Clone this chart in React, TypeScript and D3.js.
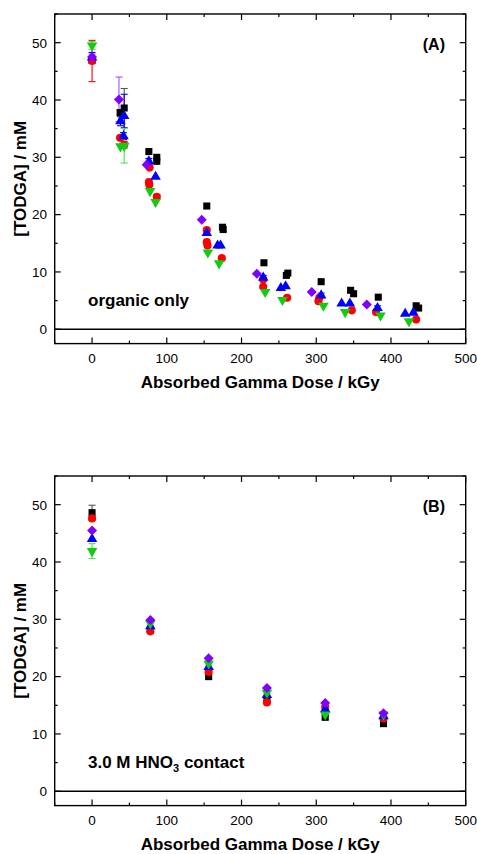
import React from "react";
import { scaleLinear, symbol, symbolSquare, symbolCircle, symbolTriangle } from "d3";

// [dose kGy, TODGA mM, error mM]
const organicBlack: [number, number, number][] = [
  [0, 47, 0.6], [37.5, 37.8, 0], [43, 38.6, 3.4], [76, 31, 0], [86.6, 29.3, 0], [86.6, 30, 0],
  [153.5, 21.5, 0], [174.5, 17.8, 0], [175.5, 17.4, 0], [230, 11.6, 0], [262, 9.8, 0], [260, 9.4, 0],
  [306.6, 8.3, 0], [346, 6.8, 0], [350, 6.2, 0], [383, 5.6, 0], [433.7, 4.1, 0], [437, 3.7, 0],
];
const organicRed: [number, number, number][] = [
  [0, 46.8, 3.6], [37.5, 33.4, 0], [43, 32.2, 0.6], [77, 28.2, 0], [76, 25.7, 0], [76.5, 25.2, 0],
  [86.6, 23.1, 0.4], [153.5, 17.3, 0], [153.5, 15.2, 0], [154.5, 14.6, 0], [173.6, 12.4, 0],
  [229, 8.7, 0], [229, 7.4, 0], [261, 5.5, 0], [304, 5.5, 0], [303, 4.9, 0], [347.6, 3.3, 0],
  [380, 3.0, 0], [433.7, 1.7, 0],
];
const organicBlue: [number, number, number][] = [
  [0, 47.4, 0.9], [38, 36.3, 0.8], [43, 37.2, 3.8], [42, 33.7, 0.6], [76, 29.3, 0.5], [85, 26.6, 0],
  [153.5, 16.8, 0.4], [168, 14.6, 0], [172, 14.6, 0], [229, 9.0, 0.4], [252.6, 7.2, 0], [259, 7.5, 0],
  [306.6, 5.9, 0.4], [334, 4.5, 0], [345, 4.5, 0], [382, 3.7, 0.4], [419, 2.7, 0], [430, 2.9, 0],
];
const organicGreen: [number, number, number][] = [
  [0, 49.5, 0.7], [38, 31.9, 0], [43, 32.0, 3.0], [77.6, 24.1, 0], [85, 22.2, 0], [155, 13.4, 0],
  [170, 11.5, 0], [231.6, 6.5, 0], [254.8, 5.1, 0], [309.6, 4.1, 0], [338.7, 3.0, 0], [386, 2.4, 0],
  [424, 1.4, 0],
];
const organicPurple: [number, number, number][] = [
  [0, 47.5, 0.5], [36, 40.1, 3.9], [73, 28.7, 0], [146.8, 19.1, 0], [220.5, 9.7, 0], [294, 6.5, 0],
  [367.7, 4.3, 0],
];

const acidDoses = [0, 78, 156, 234, 312, 390];
const acidBlack = [48.6, 28.1, 20.0, 16.0, 12.9, 11.8];
const acidRed = [47.6, 27.9, 20.8, 15.5, 14.7, 12.7];
const acidBlue = [44.0, 28.8, 21.7, 16.8, 14.3, 13.1];
const acidGreen = [41.9, 29.3, 22.3, 17.2, 13.4, 13.4];
const acidPurple = [45.5, 29.9, 23.2, 18.0, 15.4, 13.6];
const acidErr = [1.3, 0.3, 0.3, 0.3, 0.3, 0.3];

const doseTicks = [0, 100, 200, 300, 400, 500];
const doseMinor = [-50, 50, 150, 250, 350, 450];
const concTicks = [0, 10, 20, 30, 40, 50];
const concMinor = [5, 15, 25, 35, 45, 55];

const font = "'Liberation Sans', Arial, sans-serif";

type Style = { shape: string; color: string; err: string };
const styles: Style[] = [
  { shape: "square", color: "#000000", err: "#555555" },
  { shape: "circle", color: "#ff0000", err: "#ff0000" },
  { shape: "up", color: "#0000ff", err: "#0000ff" },
  { shape: "down", color: "#11cc11", err: "#55dd55" },
  { shape: "diamond", color: "#8000ff", err: "#a050ff" },
];

const symPath = (shape: string) => {
  if (shape === "square" || shape === "diamond") return symbol(symbolSquare, 50)() ?? "";
  if (shape === "circle") return symbol(symbolCircle, 52)() ?? "";
  return symbol(symbolTriangle, 48)() ?? "";
};

const Marker = ({ x, y, shape, color }: { x: number; y: number; shape: string; color: string }) => {
  const rot = shape === "down" ? 180 : shape === "diamond" ? 45 : 0;
  return <path d={symPath(shape)} transform={`translate(${x},${y}) rotate(${rot})`} fill={color} />;
};

const Panel = ({
  top,
  series,
  tag,
  note,
}: {
  top: number;
  series: [number, number, number][][];
  tag: string;
  note: React.ReactNode;
}) => {
  const left = 54.7;
  const right = 465.7;
  const bottom = top + 329.6;
  const x = scaleLinear().domain([-50, 500]).range([left, right]);
  const y = scaleLinear().domain([-2.5, 55]).range([bottom, top]);
  const tickColor = "#000";

  return (
    <g fontFamily={font}>
      {/* ticks */}
      {doseTicks.map((t) => (
        <g key={`xt${t}`}>
          <line x1={x(t)} x2={x(t)} y1={bottom} y2={bottom - 6} stroke={tickColor} strokeWidth={1.2} />
          <line x1={x(t)} x2={x(t)} y1={top} y2={top + 6} stroke={tickColor} strokeWidth={1.2} />
          <text x={x(t)} y={bottom + 19.5} textAnchor="middle" fontSize={13.5} fill="#000">
            {t}
          </text>
        </g>
      ))}
      {doseMinor.map((t) => (
        <g key={`xm${t}`}>
          <line x1={x(t)} x2={x(t)} y1={bottom} y2={bottom - 3} stroke={tickColor} strokeWidth={1.2} />
          <line x1={x(t)} x2={x(t)} y1={top} y2={top + 3} stroke={tickColor} strokeWidth={1.2} />
        </g>
      ))}
      {concTicks.map((t) => (
        <g key={`yt${t}`}>
          <line x1={left} x2={left + 6} y1={y(t)} y2={y(t)} stroke={tickColor} strokeWidth={1.2} />
          <line x1={right} x2={right - 6} y1={y(t)} y2={y(t)} stroke={tickColor} strokeWidth={1.2} />
          <text x={47} y={y(t)} dy="0.36em" textAnchor="end" fontSize={13.5} fill="#000">
            {t}
          </text>
        </g>
      ))}
      {concMinor.map((t) => (
        <g key={`ym${t}`}>
          <line x1={left} x2={left + 3} y1={y(t)} y2={y(t)} stroke={tickColor} strokeWidth={1.2} />
          <line x1={right} x2={right - 3} y1={y(t)} y2={y(t)} stroke={tickColor} strokeWidth={1.2} />
        </g>
      ))}

      {/* zero line */}
      <line x1={left} x2={right} y1={y(0)} y2={y(0)} stroke="#000" strokeWidth={1.4} />

      {/* error bars */}
      {series.map((pts, si) =>
        pts
          .filter((p) => p[2] > 0)
          .map((p, i) => (
            <g key={`e${si}-${i}`} stroke={styles[si].err} strokeWidth={1.1}>
              <line x1={x(p[0])} x2={x(p[0])} y1={y(p[1] - p[2])} y2={y(p[1] + p[2])} />
              <line x1={x(p[0]) - 3.5} x2={x(p[0]) + 3.5} y1={y(p[1] - p[2])} y2={y(p[1] - p[2])} />
              <line x1={x(p[0]) - 3.5} x2={x(p[0]) + 3.5} y1={y(p[1] + p[2])} y2={y(p[1] + p[2])} />
            </g>
          ))
      )}

      {/* markers */}
      {series.map((pts, si) =>
        pts.map((p, i) => (
          <Marker key={`m${si}-${i}`} x={x(p[0])} y={y(p[1])} shape={styles[si].shape} color={styles[si].color} />
        ))
      )}

      {/* frame */}
      <rect x={left} y={top} width={right - left} height={bottom - top} fill="none" stroke="#000" strokeWidth={1.4} />

      <text
        transform={`translate(26,${(top + bottom) / 2}) rotate(-90)`}
        textAnchor="middle"
        fontSize={17}
        fontWeight="bold"
        fill="#000"
      >
        [TODGA] / mM
      </text>
      <text x={(left + right) / 2} y={bottom + 44.5} textAnchor="middle" fontSize={17} fontWeight="bold" fill="#000">
        Absorbed Gamma Dose / kGy
      </text>
      <text x={445} y={y(50) + 7} textAnchor="end" fontSize={16} fontWeight="bold" fill="#000">
        {tag}
      </text>
      <text x={88} y={y(4)} fontSize={17} fontWeight="bold" fill="#000">
        {note}
      </text>
    </g>
  );
};

const acidSeries = [acidBlack, acidRed, acidBlue, acidGreen, acidPurple].map((vals, si) =>
  vals.map((v, i) => [acidDoses[i], v, si === 0 || si === 3 ? acidErr[i] : 0] as [number, number, number])
);

export default function App() {
  return (
    <div style={{ position: "absolute", left: 0, top: 0 }}>
      <svg width={477} height={854} style={{ display: "block", background: "#fff" }}>
        <Panel
          top={14}
          series={[organicBlack, organicRed, organicBlue, organicGreen, organicPurple]}
          tag="(A)"
          note="organic only"
        />
        <Panel
          top={476}
          series={acidSeries}
          tag="(B)"
          note={
            <>
              3.0 M HNO
              <tspan dy={4} fontSize={11}>
                3
              </tspan>
              <tspan dy={-4}> contact</tspan>
            </>
          }
        />
      </svg>
    </div>
  );
}
